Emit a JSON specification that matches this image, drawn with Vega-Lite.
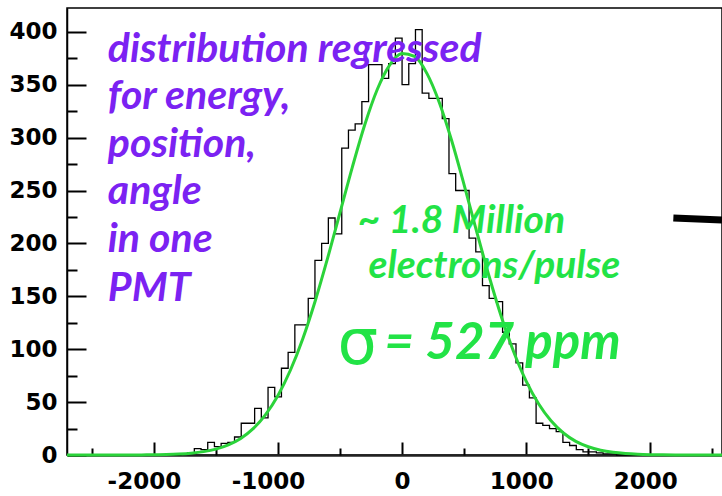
{
  "$schema": "https://vega.github.io/schema/vega-lite/v6.json",
  "width": 655,
  "height": 447,
  "autosize": "none",
  "padding": {"left": 67, "top": 8, "right": 0, "bottom": 41},
  "background": "white",
  "config": {"view": {"stroke": "black", "strokeWidth": 1.5}},
  "resolve": {"axis": {"x": "independent", "y": "independent"}},
  "datasets": {
    "hist": [
      {"x": -2700, "n": 0}, {"x": -1890, "n": 0}, {"x": -1836, "n": 0}, {"x": -1782, "n": 1}, {"x": -1728, "n": 2},
      {"x": -1674, "n": 6}, {"x": -1620, "n": 5}, {"x": -1566, "n": 12}, {"x": -1512, "n": 8}, {"x": -1458, "n": 11},
      {"x": -1404, "n": 12}, {"x": -1350, "n": 17}, {"x": -1296, "n": 30}, {"x": -1242, "n": 30}, {"x": -1188, "n": 44},
      {"x": -1134, "n": 35}, {"x": -1080, "n": 64}, {"x": -1026, "n": 55}, {"x": -972, "n": 82}, {"x": -918, "n": 97},
      {"x": -864, "n": 123}, {"x": -810, "n": 123}, {"x": -756, "n": 148}, {"x": -702, "n": 184}, {"x": -648, "n": 200},
      {"x": -594, "n": 224}, {"x": -540, "n": 209}, {"x": -486, "n": 290}, {"x": -432, "n": 307}, {"x": -378, "n": 313},
      {"x": -324, "n": 334}, {"x": -270, "n": 369}, {"x": -216, "n": 369}, {"x": -162, "n": 356}, {"x": -108, "n": 370},
      {"x": -54, "n": 394}, {"x": 0, "n": 350}, {"x": 54, "n": 370}, {"x": 108, "n": 402}, {"x": 162, "n": 342},
      {"x": 216, "n": 337}, {"x": 270, "n": 337}, {"x": 324, "n": 318}, {"x": 378, "n": 266}, {"x": 432, "n": 250},
      {"x": 486, "n": 250}, {"x": 540, "n": 205}, {"x": 594, "n": 192}, {"x": 648, "n": 160}, {"x": 702, "n": 148},
      {"x": 756, "n": 145}, {"x": 810, "n": 116}, {"x": 864, "n": 105}, {"x": 918, "n": 87}, {"x": 972, "n": 66},
      {"x": 1026, "n": 54}, {"x": 1080, "n": 30}, {"x": 1134, "n": 28}, {"x": 1188, "n": 25}, {"x": 1242, "n": 22},
      {"x": 1296, "n": 12}, {"x": 1350, "n": 9}, {"x": 1404, "n": 5}, {"x": 1458, "n": 3}, {"x": 1512, "n": 3},
      {"x": 1566, "n": 2}, {"x": 1620, "n": 1}, {"x": 1674, "n": 1}, {"x": 1728, "n": 0}, {"x": 2578, "n": 0}
    ],
    "fit": [
      {"x": -2700, "n": 0}, {"x": -2500, "n": 0}, {"x": -2300, "n": 0.02}, {"x": -2100, "n": 0.1}, {"x": -2000, "n": 0.23},
      {"x": -1900, "n": 0.46}, {"x": -1800, "n": 0.92}, {"x": -1700, "n": 1.74}, {"x": -1600, "n": 3.18}, {"x": -1500, "n": 5.6},
      {"x": -1400, "n": 9.6}, {"x": -1300, "n": 15.7}, {"x": -1200, "n": 24.9}, {"x": -1100, "n": 38.2}, {"x": -1000, "n": 56.3},
      {"x": -900, "n": 80.1}, {"x": -800, "n": 109.9}, {"x": -700, "n": 145.6}, {"x": -600, "n": 186.0}, {"x": -500, "n": 229.2},
      {"x": -400, "n": 272.4}, {"x": -300, "n": 312.4}, {"x": -200, "n": 345.5}, {"x": -100, "n": 368.6}, {"x": 0, "n": 379.4},
      {"x": 100, "n": 376.7}, {"x": 200, "n": 360.7}, {"x": 300, "n": 333.2}, {"x": 400, "n": 297.0}, {"x": 500, "n": 255.3},
      {"x": 600, "n": 211.7}, {"x": 700, "n": 169.4}, {"x": 800, "n": 130.7}, {"x": 900, "n": 97.3}, {"x": 1000, "n": 69.8},
      {"x": 1100, "n": 48.4}, {"x": 1200, "n": 32.3}, {"x": 1300, "n": 20.8}, {"x": 1400, "n": 12.9}, {"x": 1500, "n": 7.8},
      {"x": 1600, "n": 4.5}, {"x": 1700, "n": 2.5}, {"x": 1800, "n": 1.35}, {"x": 1900, "n": 0.7}, {"x": 2000, "n": 0.35},
      {"x": 2100, "n": 0.16}, {"x": 2200, "n": 0.07}, {"x": 2400, "n": 0}, {"x": 2578, "n": 0}
    ],
    "arrow": [{"x": 2186, "n": 224, "x2": 2578, "n2": 222}],
    "purple": [
      {"x": -2371, "n": 371.6, "t": "distribution regressed"},
      {"x": -2371, "n": 327, "t": "for energy,"},
      {"x": -2371, "n": 281.7, "t": "position,"},
      {"x": -2371, "n": 237.2, "t": "angle"},
      {"x": -2371, "n": 191.9, "t": "in one"},
      {"x": -2371, "n": 145.6, "t": "PMT"}
    ],
    "green": [
      {"x": -358, "n": 209.8, "t": "~ 1.8 Million"},
      {"x": -271, "n": 167, "t": "electrons/pulse"}
    ],
    "sigma": [{"x": -520, "n": 86, "t": "σ"}],
    "ppm": [{"x": -141, "n": 90.4, "t": "= 527 ppm"}]
  },
  "layer": [
    {
      "data": {"name": "hist"},
      "mark": {"type": "line", "interpolate": "step-after", "color": "black", "strokeWidth": 1.3},
      "encoding": {
        "x": {
          "field": "x", "type": "quantitative",
          "scale": {"domain": [-2700, 2578], "nice": false, "zero": false},
          "axis": {
            "orient": "bottom", "title": null, "grid": false,
            "values": [-2000, -1000, 0, 1000, 2000],
            "labelExpr": "'' + datum.value",
            "labelFont": "DejaVu Sans", "labelFontSize": 23, "labelFontWeight": "bold", "labelColor": "black",
            "labelFlush": false, "labelOverlap": false, "labelPadding": 28,
            "labelOffset": {"condition": [{"test": "datum.value < 0", "value": -10}, {"test": "datum.value > 0", "value": -5}], "value": 0},
            "tickColor": "black", "tickWidth": 2, "tickSize": -13,
            "domainColor": "#222", "domainWidth": 2.5
          }
        },
        "y": {
          "field": "n", "type": "quantitative",
          "scale": {"domain": [0, 422.5], "nice": false},
          "axis": {
            "orient": "left", "title": null, "grid": false,
            "values": [0, 50, 100, 150, 200, 250, 300, 350, 400],
            "labelExpr": "'' + datum.value",
            "labelFont": "DejaVu Sans", "labelFontSize": 23, "labelFontWeight": "bold", "labelColor": "black",
            "labelFlush": false, "labelOverlap": false, "labelPadding": 29,
            "tickColor": "black", "tickWidth": 2, "tickSize": -19,
            "domainColor": "black", "domainWidth": 1.5
          }
        }
      }
    },
    {
      "data": {"name": "fit"},
      "mark": {"type": "line", "interpolate": "monotone", "color": "#2bd33a", "strokeWidth": 3},
      "encoding": {
        "x": {
          "field": "x", "type": "quantitative",
          "axis": {
            "orient": "bottom", "title": null, "grid": false, "labels": false, "domain": false,
            "values": [-2500, -1500, -500, 500, 1500, 2500],
            "tickColor": "black", "tickWidth": 2, "tickSize": -7
          }
        },
        "y": {
          "field": "n", "type": "quantitative",
          "axis": {
            "orient": "left", "title": null, "grid": false, "labels": false, "domain": false,
            "values": [25, 75, 125, 175, 225, 275, 325, 375],
            "tickColor": "black", "tickWidth": 2, "tickSize": -10
          }
        }
      }
    },
    {
      "data": {"name": "arrow"},
      "mark": {"type": "rule", "color": "black", "strokeWidth": 7},
      "encoding": {
        "x": {"field": "x", "type": "quantitative", "axis": null},
        "y": {"field": "n", "type": "quantitative", "axis": null},
        "x2": {"field": "x2"},
        "y2": {"field": "n2"}
      }
    },
    {
      "data": {"name": "purple"},
      "mark": {"type": "text", "align": "left", "baseline": "alphabetic", "font": "Lato", "fontSize": 41, "fontWeight": "bold", "fontStyle": "italic", "color": "#7b22f2"},
      "encoding": {
        "x": {"field": "x", "type": "quantitative", "axis": null},
        "y": {"field": "n", "type": "quantitative", "axis": null},
        "text": {"field": "t"}
      }
    },
    {
      "data": {"name": "green"},
      "mark": {"type": "text", "align": "left", "baseline": "alphabetic", "font": "Lato", "fontSize": 39, "fontWeight": "bold", "fontStyle": "italic", "color": "#22e346"},
      "encoding": {
        "x": {"field": "x", "type": "quantitative", "axis": null},
        "y": {"field": "n", "type": "quantitative", "axis": null},
        "text": {"field": "t"}
      }
    },
    {
      "data": {"name": "sigma"},
      "mark": {"type": "text", "align": "left", "baseline": "alphabetic", "font": "DejaVu Sans", "fontSize": 64, "fontWeight": "normal", "color": "#22e346"},
      "encoding": {
        "x": {"field": "x", "type": "quantitative", "axis": null},
        "y": {"field": "n", "type": "quantitative", "axis": null},
        "text": {"field": "t"}
      }
    },
    {
      "data": {"name": "ppm"},
      "mark": {"type": "text", "align": "left", "baseline": "alphabetic", "font": "Lato", "fontSize": 51, "fontWeight": "bold", "fontStyle": "italic", "color": "#22e346"},
      "encoding": {
        "x": {"field": "x", "type": "quantitative", "axis": null},
        "y": {"field": "n", "type": "quantitative", "axis": null},
        "text": {"field": "t"}
      }
    }
  ]
}
